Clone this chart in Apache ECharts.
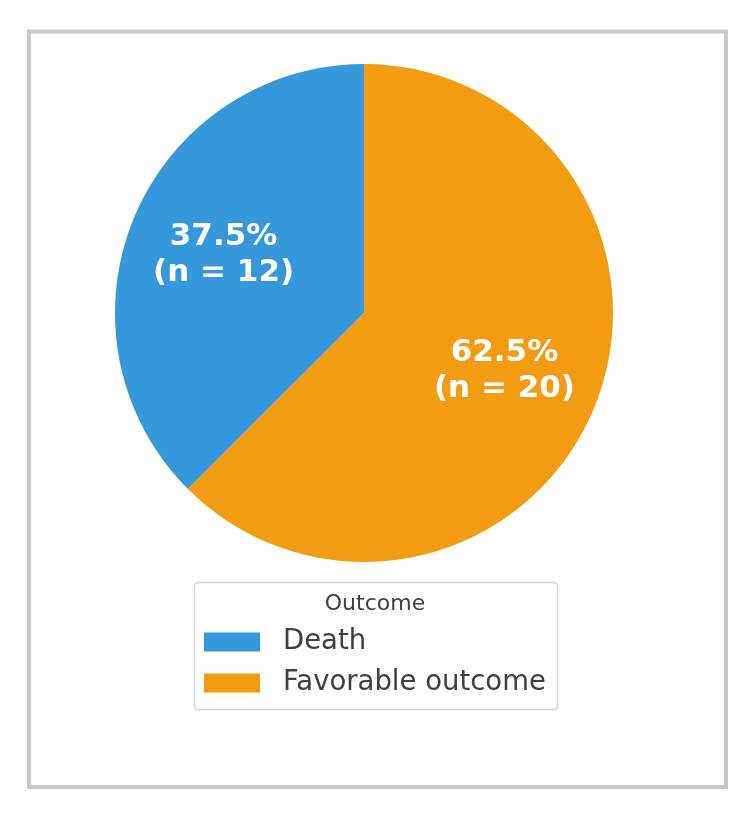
<!DOCTYPE html>
<html>
<head>
<meta charset="utf-8">
<script src="https://cdn.jsdelivr.net/npm/echarts@6/dist/echarts.min.js"></script>
<style>
html,body{margin:0;padding:0;background:#fff;}
#main{width:750px;height:815px;}
</style>
</head>
<body>
<div id="main"></div>
<script>
const categories = ['Death', 'Favorable outcome'];
const counts = [12, 20];
const colors = ['#3498db', '#f39c12'];
const legendTitle = 'Outcome';

const total = counts.reduce((a, b) => a + b, 0);
const data = categories.map((c, i) => ({ name: c, value: counts[i], itemStyle: { color: colors[i] } }));
const FONT = 'DejaVu Sans';

const chart = echarts.init(document.getElementById('main'));
chart.setOption({
  backgroundColor: '#ffffff',
  animation: false,
  graphic: [
    { type: 'rect', shape: { x: 29, y: 31.5, width: 697, height: 755.5 },
      style: { fill: 'none', stroke: '#c8c8c8', lineWidth: 4 }, z: 0 },
    { type: 'rect', shape: { x: 194.5, y: 582.5, width: 363, height: 127, r: 4 },
      style: { fill: '#ffffff', stroke: '#d6d6d6', lineWidth: 1.5 }, z: 1 },
    { type: 'text', x: 375, y: 604,
      style: { text: legendTitle, fill: '#404040', font: '22px "DejaVu Sans"', align: 'center', verticalAlign: 'middle' }, z: 2 }
  ],
  legend: {
    orient: 'vertical',
    left: 204,
    top: 627,
    padding: 0,
    itemWidth: 56,
    itemHeight: 19,
    itemGap: 11,
    icon: 'rect',
    selectedMode: false,
    data: categories.map((c, i) => ({ name: c, itemStyle: { color: colors[i], opacity: 1 } })),
    textStyle: { fontFamily: FONT, fontSize: 27.5, color: '#404040', lineHeight: 30, padding: [0, 0, 0, 18] },
    z: 3
  },
  series: [
    {
      type: 'pie',
      center: [364, 313],
      radius: [0, 249],
      startAngle: 90,
      clockwise: false,
      silent: true,
      data: data,
      label: { show: false },
      labelLine: { show: false },
      itemStyle: { borderWidth: 0 }
    },
    {
      type: 'pie',
      center: [364, 313],
      radius: [99, 199],
      startAngle: 90,
      clockwise: false,
      silent: true,
      data: data.map(d => ({ name: d.name, value: d.value, itemStyle: { color: 'rgba(0,0,0,0)' } })),
      label: {
        show: true,
        position: 'inside',
        formatter: p => (p.value / total * 100).toFixed(1) + '%\n(n = ' + p.value + ')',
        color: '#ffffff',
        fontFamily: FONT,
        fontWeight: 'bold',
        fontSize: 31,
        lineHeight: 36,
        align: 'center'
      },
      labelLine: { show: false },
      itemStyle: { borderWidth: 0 },
      z: 5
    }
  ]
});
</script>
</body>
</html>
